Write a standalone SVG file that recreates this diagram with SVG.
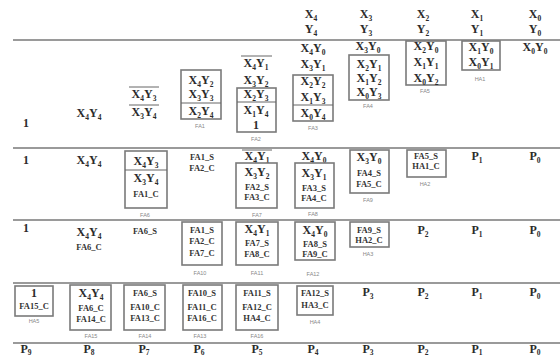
<svg xmlns="http://www.w3.org/2000/svg" width="560" height="358" viewBox="0 0 560 358">
<style>
.t{font-family:"Liberation Serif",serif;font-weight:bold;font-size:12px;fill:#2b2b2b;text-anchor:middle}
.s{font-size:7.5px}
.f{font-family:"Liberation Serif",serif;font-weight:bold;font-size:8.5px;fill:#333;text-anchor:middle}
.l{font-family:"Liberation Sans",sans-serif;font-size:5.5px;fill:#888;text-anchor:middle}
.b{fill:none;stroke:#7a7a7a;stroke-width:1.6}
.r{stroke:#9a9a9a;stroke-width:2}
.o{stroke:#666;stroke-width:1}
</style>
<rect width="560" height="358" fill="#fff"/>
<g id="rules">
<line class="r" x1="13" y1="40" x2="560" y2="40"/>
<line class="r" x1="13" y1="148" x2="560" y2="148"/>
<line class="r" x1="13" y1="220" x2="560" y2="220"/>
<line class="r" x1="13" y1="283" x2="560" y2="283"/>
<line class="r" x1="13" y1="343" x2="560" y2="343"/>
</g>
<g id="header">
<text class="t" x="311" y="18">X<tspan class="s" dy="3">4</tspan></text><text class="t" x="311" y="33">Y<tspan class="s" dy="3">4</tspan></text>
<text class="t" x="366" y="18">X<tspan class="s" dy="3">3</tspan></text><text class="t" x="366" y="33">Y<tspan class="s" dy="3">3</tspan></text>
<text class="t" x="423" y="18">X<tspan class="s" dy="3">2</tspan></text><text class="t" x="423" y="33">Y<tspan class="s" dy="3">2</tspan></text>
<text class="t" x="477" y="18">X<tspan class="s" dy="3">1</tspan></text><text class="t" x="477" y="33">Y<tspan class="s" dy="3">1</tspan></text>
<text class="t" x="535" y="18">X<tspan class="s" dy="3">0</tspan></text><text class="t" x="535" y="33">Y<tspan class="s" dy="3">0</tspan></text>
</g>
<g id="row1-free">
<text class="t" x="26" y="127">1</text>
<text class="t" x="89" y="117">X<tspan class="s" dy="3">4</tspan><tspan dy="-3">Y</tspan><tspan class="s" dy="3">4</tspan></text>
<line class="o" x1="129" y1="87" x2="159" y2="87"/>
<text class="t" x="144" y="98">X<tspan class="s" dy="3">4</tspan><tspan dy="-3">Y</tspan><tspan class="s" dy="3">3</tspan></text>
<line class="o" x1="129" y1="105" x2="159" y2="105"/>
<text class="t" x="144" y="116">X<tspan class="s" dy="3">3</tspan><tspan dy="-3">Y</tspan><tspan class="s" dy="3">4</tspan></text>
<line class="o" x1="241" y1="56" x2="272" y2="56"/>
<text class="t" x="256" y="67">X<tspan class="s" dy="3">4</tspan><tspan dy="-3">Y</tspan><tspan class="s" dy="3">1</tspan></text>
<text class="t" x="256" y="84">X<tspan class="s" dy="3">3</tspan><tspan dy="-3">Y</tspan><tspan class="s" dy="3">2</tspan></text>
<text class="t" x="313" y="52">X<tspan class="s" dy="3">4</tspan><tspan dy="-3">Y</tspan><tspan class="s" dy="3">0</tspan></text>
<text class="t" x="313" y="68">X<tspan class="s" dy="3">3</tspan><tspan dy="-3">Y</tspan><tspan class="s" dy="3">1</tspan></text>
<text class="t" x="368" y="50">X<tspan class="s" dy="3">3</tspan><tspan dy="-3">Y</tspan><tspan class="s" dy="3">0</tspan></text>
<text class="t" x="535" y="51">X<tspan class="s" dy="3">0</tspan><tspan dy="-3">Y</tspan><tspan class="s" dy="3">0</tspan></text>
</g>
<g id="FA1">
<rect class="b" x="181" y="70" width="40" height="49"/>
<line class="o" x1="181" y1="103" x2="221" y2="103"/>
<text class="t" x="201" y="84">X<tspan class="s" dy="3">4</tspan><tspan dy="-3">Y</tspan><tspan class="s" dy="3">2</tspan></text>
<text class="t" x="201" y="98">X<tspan class="s" dy="3">3</tspan><tspan dy="-3">Y</tspan><tspan class="s" dy="3">3</tspan></text>
<text class="t" x="201" y="115">X<tspan class="s" dy="3">2</tspan><tspan dy="-3">Y</tspan><tspan class="s" dy="3">4</tspan></text>
<text class="l" x="200" y="128">FA1</text>
</g>
<g id="FA2">
<rect class="b" x="237" y="88" width="39" height="44"/>
<line class="o" x1="237" y1="102" x2="276" y2="102"/>
<text class="t" x="256" y="98">X<tspan class="s" dy="3">2</tspan><tspan dy="-3">Y</tspan><tspan class="s" dy="3">3</tspan></text>
<text class="t" x="256" y="114">X<tspan class="s" dy="3">1</tspan><tspan dy="-3">Y</tspan><tspan class="s" dy="3">4</tspan></text>
<text class="t" x="256" y="129">1</text>
<text class="l" x="256" y="141">FA2</text>
</g>
<g id="FA3">
<rect class="b" x="293" y="75" width="40" height="46"/>
<line class="o" x1="293" y1="105" x2="333" y2="105"/>
<text class="t" x="313" y="85">X<tspan class="s" dy="3">2</tspan><tspan dy="-3">Y</tspan><tspan class="s" dy="3">2</tspan></text>
<text class="t" x="313" y="101">X<tspan class="s" dy="3">1</tspan><tspan dy="-3">Y</tspan><tspan class="s" dy="3">3</tspan></text>
<text class="t" x="313" y="117">X<tspan class="s" dy="3">0</tspan><tspan dy="-3">Y</tspan><tspan class="s" dy="3">4</tspan></text>
<text class="l" x="313" y="130">FA3</text>
</g>
<g id="FA4">
<rect class="b" x="349" y="55" width="40" height="45"/>
<text class="t" x="369" y="68">X<tspan class="s" dy="3">2</tspan><tspan dy="-3">Y</tspan><tspan class="s" dy="3">1</tspan></text>
<text class="t" x="369" y="82">X<tspan class="s" dy="3">1</tspan><tspan dy="-3">Y</tspan><tspan class="s" dy="3">2</tspan></text>
<text class="t" x="369" y="96">X<tspan class="s" dy="3">0</tspan><tspan dy="-3">Y</tspan><tspan class="s" dy="3">3</tspan></text>
<text class="l" x="368" y="108">FA4</text>
</g>
<g id="FA5">
<rect class="b" x="406" y="41" width="40" height="44"/>
<text class="t" x="426" y="50">X<tspan class="s" dy="3">2</tspan><tspan dy="-3">Y</tspan><tspan class="s" dy="3">0</tspan></text>
<text class="t" x="426" y="66">X<tspan class="s" dy="3">1</tspan><tspan dy="-3">Y</tspan><tspan class="s" dy="3">1</tspan></text>
<text class="t" x="426" y="82">X<tspan class="s" dy="3">0</tspan><tspan dy="-3">Y</tspan><tspan class="s" dy="3">2</tspan></text>
<text class="l" x="425" y="93">FA5</text>
</g>
<g id="HA1">
<rect class="b" x="462" y="41" width="38" height="29"/>
<text class="t" x="481" y="51">X<tspan class="s" dy="3">1</tspan><tspan dy="-3">Y</tspan><tspan class="s" dy="3">0</tspan></text>
<text class="t" x="481" y="66">X<tspan class="s" dy="3">0</tspan><tspan dy="-3">Y</tspan><tspan class="s" dy="3">1</tspan></text>
<text class="l" x="480" y="81">HA1</text>
</g>
<g id="row2-free">
<text class="t" x="26" y="164">1</text>
<text class="t" x="89" y="164">X<tspan class="s" dy="3">4</tspan><tspan dy="-3">Y</tspan><tspan class="s" dy="3">4</tspan></text>
<text class="f" x="202" y="160">FA1_S</text>
<text class="f" x="202" y="171">FA2_C</text>
<line class="o" x1="242" y1="150" x2="272" y2="150"/>
<text class="t" x="257" y="160">X<tspan class="s" dy="3">4</tspan><tspan dy="-3">Y</tspan><tspan class="s" dy="3">1</tspan></text>
<text class="t" x="314" y="160">X<tspan class="s" dy="3">4</tspan><tspan dy="-3">Y</tspan><tspan class="s" dy="3">0</tspan></text>
<text class="t" x="477" y="160">P<tspan class="s" dy="3">1</tspan></text>
<text class="t" x="535" y="160">P<tspan class="s" dy="3">0</tspan></text>
</g>
<g id="FA6">
<rect class="b" x="125" y="151" width="42" height="57"/>
<line class="o" x1="125" y1="170" x2="167" y2="170"/>
<text class="t" x="146" y="165">X<tspan class="s" dy="3">4</tspan><tspan dy="-3">Y</tspan><tspan class="s" dy="3">3</tspan></text>
<text class="t" x="146" y="182">X<tspan class="s" dy="3">3</tspan><tspan dy="-3">Y</tspan><tspan class="s" dy="3">4</tspan></text>
<text class="f" x="146" y="197">FA1_C</text>
<text class="l" x="145" y="217">FA6</text>
</g>
<g id="FA7">
<rect class="b" x="236" y="163" width="41" height="45"/>
<text class="t" x="257" y="176">X<tspan class="s" dy="3">3</tspan><tspan dy="-3">Y</tspan><tspan class="s" dy="3">2</tspan></text>
<text class="f" x="257" y="190">FA2_S</text>
<text class="f" x="257" y="200">FA3_C</text>
<text class="l" x="257" y="217">FA7</text>
</g>
<g id="FA8">
<rect class="b" x="295" y="163" width="39" height="45"/>
<text class="t" x="314" y="177">X<tspan class="s" dy="3">3</tspan><tspan dy="-3">Y</tspan><tspan class="s" dy="3">1</tspan></text>
<text class="f" x="314" y="191">FA3_S</text>
<text class="f" x="314" y="201">FA4_C</text>
<text class="l" x="313" y="216">FA8</text>
</g>
<g id="FA9">
<rect class="b" x="350" y="150" width="39" height="43"/>
<text class="t" x="369" y="161">X<tspan class="s" dy="3">3</tspan><tspan dy="-3">Y</tspan><tspan class="s" dy="3">0</tspan></text>
<text class="f" x="369" y="176">FA4_S</text>
<text class="f" x="369" y="187">FA5_C</text>
<text class="l" x="368" y="202">FA9</text>
</g>
<g id="HA2">
<rect class="b" x="407" y="150" width="39" height="27"/>
<text class="f" x="426" y="159">FA5_S</text>
<text class="f" x="426" y="169">HA1_C</text>
<text class="l" x="425" y="186">HA2</text>
</g>
<g id="row3-free">
<text class="t" x="26" y="232">1</text>
<text class="t" x="89" y="236">X<tspan class="s" dy="3">4</tspan><tspan dy="-3">Y</tspan><tspan class="s" dy="3">4</tspan></text>
<text class="f" x="89" y="250">FA6_C</text>
<text class="f" x="145" y="234">FA6_S</text>
<text class="t" x="423" y="234">P<tspan class="s" dy="3">2</tspan></text>
<text class="t" x="477" y="234">P<tspan class="s" dy="3">1</tspan></text>
<text class="t" x="535" y="234">P<tspan class="s" dy="3">0</tspan></text>
</g>
<g id="FA10">
<rect class="b" x="182" y="222" width="40" height="43"/>
<text class="f" x="202" y="233">FA1_S</text>
<text class="f" x="202" y="244">FA2_C</text>
<text class="f" x="202" y="256">FA7_C</text>
<text class="l" x="200" y="275">FA10</text>
</g>
<g id="FA11">
<rect class="b" x="236" y="222" width="42" height="43"/>
<text class="t" x="257" y="233">X<tspan class="s" dy="3">4</tspan><tspan dy="-3">Y</tspan><tspan class="s" dy="3">1</tspan></text>
<text class="f" x="257" y="246">FA7_S</text>
<text class="f" x="257" y="257">FA8_C</text>
<text class="l" x="257" y="275">FA11</text>
</g>
<g id="FA12">
<rect class="b" x="295" y="222" width="40" height="38"/>
<text class="t" x="315" y="234">X<tspan class="s" dy="3">4</tspan><tspan dy="-3">Y</tspan><tspan class="s" dy="3">0</tspan></text>
<text class="f" x="315" y="247">FA8_S</text>
<text class="f" x="315" y="257">FA9_C</text>
<text class="l" x="313" y="276">FA12</text>
</g>
<g id="HA3">
<rect class="b" x="350" y="222" width="39" height="25"/>
<text class="f" x="369" y="233">FA9_S</text>
<text class="f" x="369" y="243">HA2_C</text>
<text class="l" x="368" y="256">HA3</text>
</g>
<g id="row4-free">
<text class="t" x="368" y="296">P<tspan class="s" dy="3">3</tspan></text>
<text class="t" x="423" y="296">P<tspan class="s" dy="3">2</tspan></text>
<text class="t" x="477" y="296">P<tspan class="s" dy="3">1</tspan></text>
<text class="t" x="535" y="296">P<tspan class="s" dy="3">0</tspan></text>
</g>
<g id="HA5">
<rect class="b" x="15" y="286" width="38" height="30"/>
<text class="t" x="34" y="297">1</text>
<text class="f" x="34" y="309">FA15_C</text>
<text class="l" x="34" y="323">HA5</text>
</g>
<g id="FA15">
<rect class="b" x="70" y="285" width="41" height="45"/>
<text class="t" x="91" y="297">X<tspan class="s" dy="3">4</tspan><tspan dy="-3">Y</tspan><tspan class="s" dy="3">4</tspan></text>
<text class="f" x="91" y="311">FA6_C</text>
<text class="f" x="91" y="322">FA14_C</text>
<text class="l" x="91" y="338">FA15</text>
</g>
<g id="FA14">
<rect class="b" x="124" y="285" width="41" height="45"/>
<text class="f" x="145" y="296">FA6_S</text>
<text class="f" x="145" y="310">FA10_C</text>
<text class="f" x="145" y="321">FA13_C</text>
<text class="l" x="145" y="338">FA14</text>
</g>
<g id="FA13">
<rect class="b" x="183" y="285" width="39" height="45"/>
<text class="f" x="202" y="296">FA10_S</text>
<text class="f" x="202" y="310">FA11_C</text>
<text class="f" x="202" y="321">FA16_C</text>
<text class="l" x="200" y="338">FA13</text>
</g>
<g id="FA16">
<rect class="b" x="236" y="285" width="42" height="45"/>
<text class="f" x="257" y="296">FA11_S</text>
<text class="f" x="257" y="310">FA12_C</text>
<text class="f" x="257" y="321">HA4_C</text>
<text class="l" x="257" y="338">FA16</text>
</g>
<g id="HA4">
<rect class="b" x="297" y="286" width="36" height="29"/>
<text class="f" x="315" y="296">FA12_S</text>
<text class="f" x="315" y="308">HA3_C</text>
<text class="l" x="315" y="324">HA4</text>
</g>
<g id="outputs">
<text class="t" x="26" y="353">P<tspan class="s" dy="2">9</tspan></text>
<text class="t" x="89" y="353">P<tspan class="s" dy="2">8</tspan></text>
<text class="t" x="144" y="353">P<tspan class="s" dy="2">7</tspan></text>
<text class="t" x="199" y="353">P<tspan class="s" dy="2">6</tspan></text>
<text class="t" x="257" y="353">P<tspan class="s" dy="2">5</tspan></text>
<text class="t" x="313" y="353">P<tspan class="s" dy="2">4</tspan></text>
<text class="t" x="368" y="353">P<tspan class="s" dy="2">3</tspan></text>
<text class="t" x="423" y="353">P<tspan class="s" dy="2">2</tspan></text>
<text class="t" x="477" y="353">P<tspan class="s" dy="2">1</tspan></text>
<text class="t" x="535" y="353">P<tspan class="s" dy="2">0</tspan></text>
</g>
</svg>
